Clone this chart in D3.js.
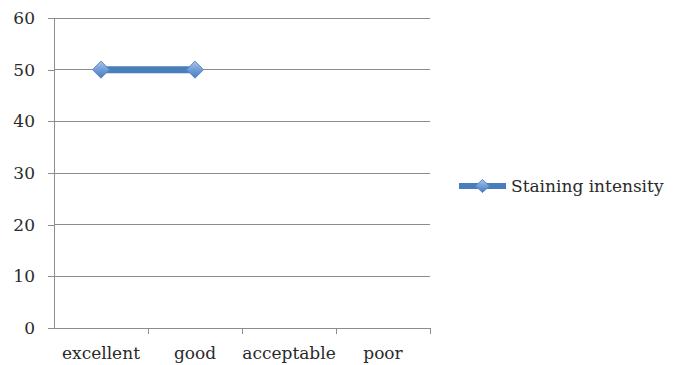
<!DOCTYPE html>
<html>
<head>
<meta charset="utf-8">
<script src="https://cdn.jsdelivr.net/npm/d3@7"></script>
<style>
  html, body { margin: 0; padding: 0; background: #fff; }
  svg { display: block; }
  svg text { font-family: "DejaVu Serif", serif !important; fill: #2a2a2a; }
</style>
</head>
<body>
<svg id="chart" width="681" height="365"></svg>
<script>
// Chart data
const categories = ["excellent", "good", "acceptable", "poor"];
const seriesName = "Staining intensity";
const seriesValues = [50, 50, null, null];
const yTicks = [0, 10, 20, 30, 40, 50, 60];

const svg = d3.select("#chart");
const plot = { left: 54, right: 430, top: 18, bottom: 328 };

const x = d3.scaleBand().domain(categories).range([plot.left, plot.right]);
const y = d3.scaleLinear().domain([0, 60]).range([plot.bottom, plot.top]);

const gridColor = "#8c8c8c";
const lineColor = "#4a7ebb";
const fontSize = "17px";

// Diamond marker gradient
const defs = svg.append("defs");
const grad = defs.append("linearGradient")
  .attr("id", "markerFill").attr("x1", 0).attr("y1", 0).attr("x2", 0).attr("y2", 1);
grad.append("stop").attr("offset", "0%").attr("stop-color", "#a9c4ea");
grad.append("stop").attr("offset", "55%").attr("stop-color", "#6d9ad6");
grad.append("stop").attr("offset", "100%").attr("stop-color", "#4a7bbf");

// Horizontal gridlines (skip the baseline, drawn by the x axis)
svg.append("g")
  .selectAll("line")
  .data(yTicks.filter(d => d !== 0))
  .join("line")
  .attr("x1", plot.left).attr("x2", plot.right)
  .attr("y1", d => y(d)).attr("y2", d => y(d))
  .attr("stroke", gridColor).attr("stroke-width", 1).attr("shape-rendering", "crispEdges");

// Y axis
const yAxis = svg.append("g")
  .attr("transform", `translate(${plot.left},0)`)
  .call(d3.axisLeft(y).tickValues(yTicks).tickSize(6).tickPadding(13).tickFormat(d3.format("d")))
  .attr("font-family", null).attr("font-size", null);
yAxis.select(".domain").attr("stroke", gridColor).attr("shape-rendering", "crispEdges");
yAxis.selectAll(".tick line").attr("stroke", gridColor).attr("shape-rendering", "crispEdges");
yAxis.selectAll("text").style("font-size", fontSize).attr("fill", "#2a2a2a");

// X axis with ticks on category boundaries
const xAxisG = svg.append("g").attr("transform", `translate(0,${plot.bottom})`);
xAxisG.append("line")
  .attr("x1", plot.left - 6).attr("x2", plot.right)
  .attr("y1", 0).attr("y2", 0)
  .attr("stroke", gridColor).attr("shape-rendering", "crispEdges");
const boundaries = categories.map(c => x(c) + x.bandwidth());
xAxisG.selectAll("line.bt")
  .data(boundaries)
  .join("line").attr("class", "bt")
  .attr("x1", d => d).attr("x2", d => d)
  .attr("y1", 0).attr("y2", 6)
  .attr("stroke", gridColor).attr("shape-rendering", "crispEdges");
xAxisG.selectAll("text")
  .data(categories)
  .join("text")
  .attr("x", d => x(d) + x.bandwidth() / 2)
  .attr("y", 31)
  .attr("text-anchor", "middle")
  .style("font-size", fontSize)
  .text(d => d);

// Series line
const points = categories.map((c, i) => ({ c, v: seriesValues[i] })).filter(p => p.v != null);
const line = d3.line()
  .x(p => x(p.c) + x.bandwidth() / 2)
  .y(p => y(p.v));
svg.append("path")
  .datum(points)
  .attr("d", line)
  .attr("fill", "none")
  .attr("stroke", lineColor)
  .attr("stroke-width", 7);

// Diamond markers
const diamond = (cx, cy, w, h) =>
  `M${cx},${cy - h}L${cx + w},${cy}L${cx},${cy + h}L${cx - w},${cy}Z`;
svg.append("g")
  .selectAll("path")
  .data(points)
  .join("path")
  .attr("d", p => diamond(x(p.c) + x.bandwidth() / 2, y(p.v), 8.5, 8.5))
  .attr("fill", "url(#markerFill)")
  .attr("stroke", "#5b87c2")
  .attr("stroke-width", 1);

// Legend
const legend = svg.append("g").attr("transform", "translate(459,186)");
legend.append("line")
  .attr("x1", 0).attr("x2", 47).attr("y1", 0).attr("y2", 0)
  .attr("stroke", lineColor).attr("stroke-width", 6);
legend.append("path")
  .attr("d", diamond(23.5, 0, 7, 6.5))
  .attr("fill", "url(#markerFill)")
  .attr("stroke", "#5b87c2").attr("stroke-width", 1);
legend.append("text")
  .attr("x", 52).attr("y", 6)
  .style("font-size", fontSize)
  .text(seriesName);
</script>
</body>
</html>
